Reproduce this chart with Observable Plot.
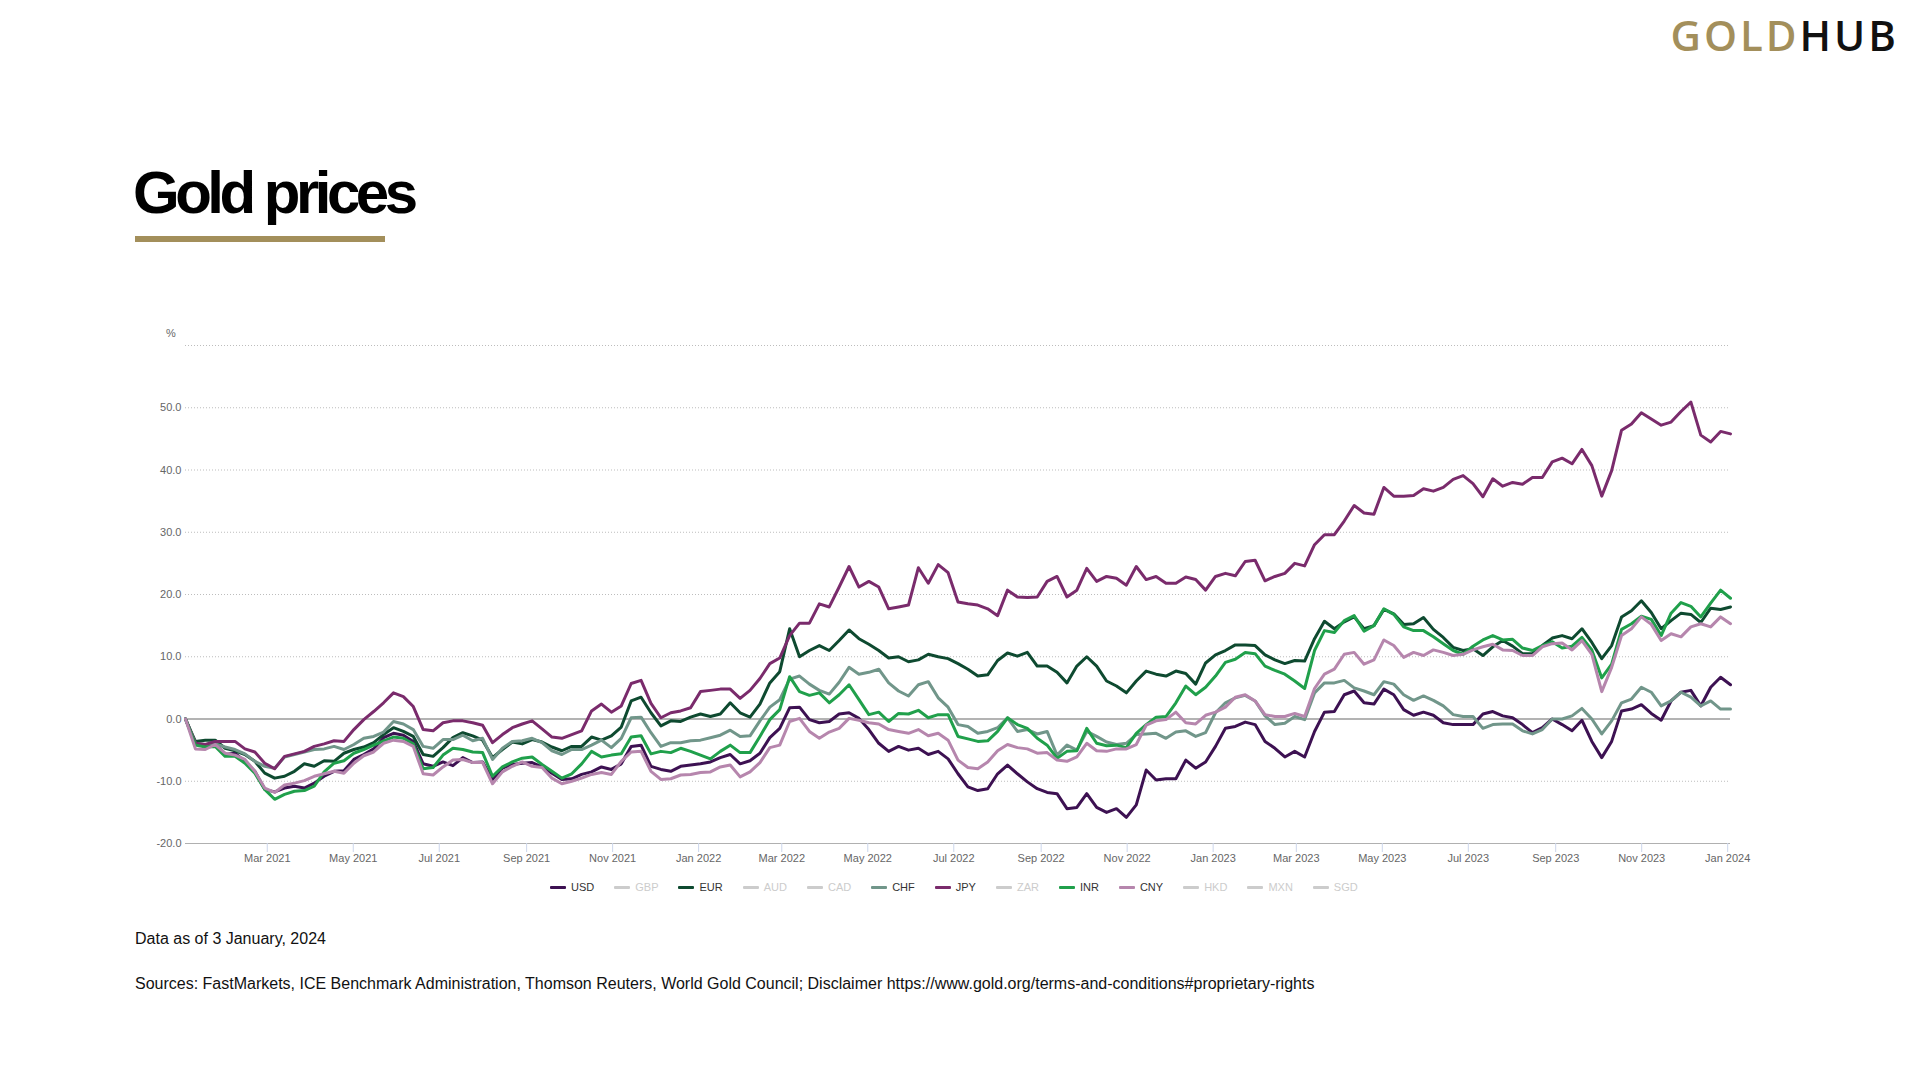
<!DOCTYPE html>
<html>
<head>
<meta charset="utf-8">
<script src="https://cdn.jsdelivr.net/npm/d3@7"></script>
<script src="https://cdn.jsdelivr.net/npm/@observablehq/plot@0.6"></script>
<style>
  html, body { margin: 0; padding: 0; background: #fff; }
  body { width: 1920px; height: 1080px; position: relative; overflow: hidden; font-family: "Liberation Sans", Arial, sans-serif; }
  #overlay { position: absolute; left: 0; top: 0; width: 1920px; height: 1080px; pointer-events: none; }
  #chart { position: absolute; left: 0; top: 300px; width: 1920px; }
  #legend { position: absolute; left: 550px; top: 880px; display: flex; gap: 20px; font-size: 11px; line-height: 14px; font-family: "Liberation Sans", Arial, sans-serif; }
  .item { display: flex; align-items: center; white-space: nowrap; }
  .sw { width: 16px; height: 3px; margin-right: 5px; border-radius: 1px; }
</style>
</head>
<body>
<div id="chart"></div>
<div id="legend"></div>
<svg id="overlay" width="1920" height="1080"></svg>
<script>
// ---------- data ----------
const startDate = "2021-01-02";
const endDate = "2024-01-03";
const xTickDates = ["2021-03-01","2021-05-01","2021-07-01","2021-09-01","2021-11-01","2022-01-01","2022-03-01","2022-05-01","2022-07-01","2022-09-01","2022-11-01","2023-01-01","2023-03-01","2023-05-01","2023-07-01","2023-09-01","2023-11-01","2024-01-01"];
const yTicks = [-20, -10, 0, 10, 20, 30, 40, 50];
const yGrid = [-10, 10, 20, 30, 40, 50, 60];

const legendNames = ["USD","GBP","EUR","AUD","CAD","CHF","JPY","ZAR","INR","CNY","HKD","MXN","SGD"];
const activeNames = ["USD","EUR","CHF","JPY","INR","CNY"];
const seriesColors = {USD:"#3d1152", EUR:"#0e4a30", CHF:"#71968a", JPY:"#7a2b6c", INR:"#20a04b", CNY:"#b686ad"};

// weekly readings (% change in gold price in each currency)
const USD = [0,-3.9,-4.4,-3.9,-5.7,-5.5,-6.8,-8.4,-11.3,-11.7,-11.1,-10.8,-11.1,-10.3,-9.2,-8.4,-8.3,-6.5,-5.7,-4.8,-3.0,-2.3,-2.6,-3.6,-7.2,-7.6,-6.9,
 -7.5,-6.2,-7.0,-6.9,-9.7,-7.9,-7.3,-7.1,-7.0,-7.7,-8.7,-9.7,-9.6,-8.9,-8.5,-7.7,-8.1,-7.2,-4.4,-4.2,-7.6,-8.1,-8.4,-7.6,-7.4,-7.2,
 -6.9,-6.2,-5.7,-7.2,-6.7,-5.5,-3.0,-1.5,1.8,1.9,-0.1,-0.6,-0.4,0.8,1.0,0.1,-1.7,-3.9,-5.2,-4.4,-5.0,-4.7,-5.7,-5.2,-6.4,
 -8.8,-10.9,-11.5,-11.2,-8.8,-7.4,-8.8,-10.1,-11.2,-11.8,-12.0,-14.4,-14.2,-12.0,-14.2,-15.0,-14.4,-15.8,-13.8,-8.2,-9.8,-9.6,-9.6,-6.6,-7.9,-6.9,
 -4.4,-1.5,-1.2,-0.5,-0.9,-3.6,-4.7,-6.1,-5.2,-6.1,-2.0,1.1,1.2,3.9,4.5,2.6,2.4,4.8,3.9,1.5,0.6,1.1,0.6,-0.6,-0.9,-0.9,
 -0.9,0.8,1.2,0.5,0.2,-0.9,-2.2,-1.4,0.0,-0.9,-1.9,-0.2,-3.6,-6.2,-3.6,1.3,1.6,2.3,0.9,-0.2,2.9,4.3,4.6,2.1,5.1,6.7,5.5];

const EUR = [0,-3.6,-3.4,-3.4,-4.7,-5.1,-5.7,-6.8,-8.7,-9.5,-9.2,-8.4,-7.2,-7.6,-6.7,-6.8,-5.5,-4.9,-4.5,-3.8,-2.5,-1.4,-2.0,-2.8,-5.7,-6.0,-4.6,
 -3.0,-2.2,-2.7,-3.4,-6.2,-4.9,-3.7,-4.0,-3.3,-3.7,-4.5,-5.1,-4.4,-4.4,-2.9,-3.4,-2.7,-1.3,2.9,3.5,1.0,-1.1,-0.3,-0.4,0.3,0.8,
 0.4,0.8,2.6,1.0,0.3,2.4,5.8,7.6,14.5,10.0,11.0,11.8,11.0,12.6,14.3,12.9,12.0,11.0,9.8,10.0,9.2,9.5,10.4,10.0,9.7,
 8.9,8.0,6.9,7.1,9.4,10.6,10.1,10.7,8.5,8.5,7.5,5.8,8.5,10.0,8.5,6.1,5.3,4.2,6.1,7.7,7.2,6.9,7.7,7.3,5.6,9.0,
 10.3,11.0,11.9,11.9,11.8,10.3,9.5,8.9,9.4,9.3,12.9,15.7,14.5,15.6,16.4,14.5,15.0,17.6,16.9,15.2,15.3,16.3,14.4,13.1,11.5,11.0,
 11.3,10.2,11.6,12.6,11.7,10.5,10.5,11.8,13.0,13.4,12.9,14.5,12.3,9.7,11.8,16.4,17.4,19.0,17.1,14.5,15.8,17.0,16.8,15.5,17.8,17.6,18.0];

const CHF = [0,-3.9,-4.1,-4.0,-4.5,-4.9,-5.6,-6.8,-7.6,-7.9,-6.1,-5.7,-5.3,-4.9,-4.8,-4.4,-4.9,-4.1,-3.1,-2.8,-2.1,-0.4,-0.8,-1.7,-4.4,-4.7,-3.3,
 -3.3,-2.6,-3.5,-3.1,-6.5,-4.7,-3.6,-3.5,-3.1,-3.8,-5.1,-5.7,-4.9,-4.9,-4.2,-3.4,-4.6,-3.1,0.2,0.3,-2.2,-4.4,-3.8,-3.8,-3.5,-3.4,
 -3.0,-2.6,-1.8,-2.8,-2.7,-0.3,1.9,3.1,6.4,6.9,5.6,4.6,4.0,5.9,8.3,7.2,7.5,8.0,5.8,4.5,3.7,5.5,6.0,3.4,1.9,
 -0.9,-1.2,-2.3,-2.0,-1.4,0.2,-2.0,-1.7,-2.4,-2.0,-5.8,-4.2,-5.0,-2.0,-2.8,-3.7,-4.1,-3.9,-2.5,-2.4,-2.3,-3.1,-2.1,-1.9,-2.8,-2.2,
 1.0,2.6,3.4,3.8,2.9,0.5,-0.9,-0.7,0.4,-0.1,4.2,5.8,5.8,6.2,5.0,4.5,3.9,6.0,5.6,3.9,3.0,3.7,3.0,2.1,0.7,0.4,
 0.4,-1.5,-0.9,-0.8,-0.8,-1.9,-2.4,-1.7,0.0,0.0,0.5,1.7,0.0,-2.4,-0.3,2.6,3.2,5.1,4.3,2.1,2.9,4.3,3.5,2.1,2.9,1.6,1.6];

const JPY = [0,-3.9,-4.1,-3.6,-3.6,-3.6,-4.8,-5.3,-7.1,-8.0,-6.0,-5.6,-5.2,-4.4,-4.0,-3.5,-3.6,-1.7,-0.1,1.2,2.6,4.2,3.6,2.0,-1.7,-1.9,-0.6,
 -0.3,-0.3,-0.6,-1.0,-3.8,-2.5,-1.4,-0.8,-0.3,-1.6,-2.9,-3.1,-2.5,-1.9,1.3,2.4,1.1,2.1,5.7,6.2,2.5,0.2,1.0,1.3,1.8,4.4,
 4.6,4.8,4.8,3.3,4.6,6.5,8.9,9.8,13.4,15.4,15.4,18.5,18.0,21.2,24.5,21.2,22.1,21.2,17.7,18.0,18.3,24.3,21.8,24.8,23.5,
 18.8,18.5,18.3,17.7,16.6,20.7,19.6,19.5,19.6,22.1,22.9,19.6,20.7,24.2,22.1,22.9,22.6,21.5,24.5,22.4,22.9,21.8,21.8,22.8,22.4,20.7,
 22.9,23.4,23.0,25.3,25.5,22.2,22.9,23.4,25.0,24.6,28.0,29.6,29.6,31.8,34.3,33.1,32.9,37.2,35.8,35.8,35.9,37.0,36.6,37.2,38.5,39.1,
 37.8,35.7,38.6,37.4,38.0,37.7,38.8,38.8,41.3,41.9,41.0,43.3,40.7,35.8,39.9,46.4,47.4,49.2,48.2,47.2,47.7,49.4,50.9,45.6,44.5,46.2,45.8];

const INR = [0,-4.2,-4.5,-4.4,-6.0,-6.0,-7.1,-8.7,-11.3,-12.9,-12.1,-11.6,-11.5,-10.8,-8.5,-7.1,-6.7,-5.5,-4.9,-4.2,-3.5,-2.9,-3.1,-4.0,-8.0,-7.8,-5.8,
 -4.7,-4.9,-5.3,-5.4,-9.2,-7.7,-6.9,-6.3,-6.1,-7.3,-8.4,-9.5,-8.8,-7.2,-5.2,-6.1,-5.8,-5.6,-2.9,-2.7,-5.6,-5.2,-5.4,-4.7,-5.2,-5.8,
 -6.4,-5.2,-4.2,-5.4,-5.4,-2.8,-0.1,1.5,6.8,4.4,3.8,4.2,2.6,3.9,5.5,3.1,0.7,1.1,-0.4,0.9,0.8,1.4,0.2,0.7,0.7,
 -2.8,-3.2,-3.6,-3.5,-2.0,0.2,-0.9,-1.5,-3.1,-4.2,-6.3,-5.2,-5.1,-1.5,-3.9,-4.3,-4.2,-4.6,-2.3,-0.9,0.3,0.4,2.6,5.3,3.9,5.1,
 6.9,9.1,9.6,10.7,10.5,8.5,7.8,7.2,6.1,4.9,11.0,14.2,13.9,15.8,16.6,14.1,15.0,17.7,16.8,14.8,14.2,14.2,13.2,12.1,11.0,10.4,
 11.7,12.7,13.4,12.7,12.8,11.4,11.0,11.8,12.4,11.4,11.7,13.1,11.1,6.6,8.8,14.4,15.3,16.5,16.0,13.4,17.0,18.7,18.1,16.4,18.6,20.7,19.4];

const CNY = [0,-4.8,-4.9,-4.1,-5.5,-5.8,-6.5,-8.4,-11.1,-11.8,-10.6,-10.3,-9.9,-9.2,-8.8,-8.4,-8.7,-7.1,-5.9,-5.3,-3.9,-3.4,-3.6,-4.4,-8.8,-9.0,-7.7,
 -6.6,-6.5,-7.0,-7.0,-10.4,-8.5,-7.6,-6.9,-7.6,-7.8,-9.5,-10.4,-10.0,-9.5,-8.9,-8.6,-8.9,-6.8,-5.3,-5.2,-8.4,-9.7,-9.6,-9.0,-8.9,-8.6,
 -8.5,-7.7,-7.4,-9.3,-8.5,-7.0,-4.6,-4.2,-0.4,0.1,-2.0,-3.1,-2.1,-1.5,0.1,-0.2,-0.6,-0.8,-1.7,-2.0,-2.3,-1.7,-2.7,-2.3,-3.4,
 -6.6,-7.8,-8.0,-6.9,-5.1,-4.1,-4.6,-4.8,-5.5,-5.4,-6.6,-6.8,-6.1,-3.9,-5.1,-5.2,-4.8,-4.8,-4.1,-1.0,-0.3,-0.1,1.1,-0.6,-0.8,0.6,
 1.1,1.9,3.5,3.9,2.9,0.7,0.4,0.4,0.9,0.4,4.9,7.2,8.0,10.4,10.7,8.8,9.5,12.7,11.8,9.9,10.7,10.2,11.1,10.7,10.2,10.4,
 11.1,11.6,12.0,11.1,11.0,10.2,10.2,11.6,12.1,12.2,11.1,12.6,10.4,4.4,8.3,13.4,14.5,16.4,15.2,12.6,13.7,13.2,14.8,15.3,14.8,16.4,15.3];

const seriesValues = {USD, EUR, CHF, JPY, INR, CNY};

// ---------- build table ----------
const t0 = new Date(startDate + "T00:00:00Z");
const t1 = new Date(endDate + "T00:00:00Z");
const nObs = USD.length;
const obsDates = d3.range(nObs).map(i => new Date(+t0 + (t1 - t0) * i / (nObs - 1)));
const rows = [];
for (const name of activeNames) {
  seriesValues[name].forEach((v, i) => rows.push({date: obsDates[i], value: v, currency: name}));
}

// ---------- chart ----------
const chart = Plot.plot({
  width: 1920,
  height: 580,
  marginLeft: 185,
  marginRight: 190,
  marginTop: 45,
  marginBottom: 37,
  style: {fontFamily: "Liberation Sans, Arial, sans-serif", fontSize: "11px", background: "transparent", color: "#666", overflow: "visible"},
  x: {type: "utc", domain: [t0, t1]},
  y: {domain: [-20, 60]},
  marks: [
    Plot.ruleY(yGrid, {stroke: "#bdbdbd", strokeWidth: 1, strokeDasharray: "1,2"}),
    Plot.ruleY([0], {stroke: "#9a9a9a", strokeWidth: 1.3}),
    Plot.ruleY([-20], {stroke: "#b0b0b0", strokeWidth: 1}),
    ...activeNames.map(name => Plot.line(rows.filter(r => r.currency === name), {
      x: "date", y: "value", stroke: seriesColors[name], strokeWidth: 3, strokeLinejoin: "round", strokeLinecap: "round"
    })),
    Plot.axisX({ticks: xTickDates.map(s => new Date(s + "T00:00:00Z")), tickFormat: d3.utcFormat("%b %Y"), tickSize: 9, tickPadding: 2, stroke: "#ccd6eb", fill: "#666", label: null}),
    Plot.axisY({ticks: yTicks, tickFormat: d => d.toFixed(1), tickSize: 0, tickPadding: 4, fill: "#666", label: null})
  ]
});
document.getElementById("chart").appendChild(chart);

// ---------- legend ----------
const legend = d3.select("#legend");
for (const name of legendNames) {
  const on = activeNames.includes(name);
  const it = legend.append("div").attr("class", "item");
  it.append("div").attr("class", "sw").style("background", on ? seriesColors[name] : "#cccccc");
  it.append("span").style("color", on ? "#333333" : "#cccccc").text(name);
}

// ---------- page texts ----------
const ov = d3.select("#overlay");
const logo = ov.append("text").attr("x", 1899).attr("y", 51).attr("text-anchor", "end")
  .style("font-family", "'Open Sans', sans-serif").style("font-weight", 600).style("font-size", "42px").style("letter-spacing", "3px");
logo.append("tspan").attr("fill", "#a38f5b").text("GOLD");
logo.append("tspan").attr("fill", "#111111").text("HUB");

ov.append("text").attr("x", 133).attr("y", 213).attr("fill", "#000")
  .style("font-family", "'Liberation Sans', Arial, sans-serif").style("font-weight", 700).style("font-size", "60px").style("letter-spacing", "-4.5px")
  .text("Gold prices");
ov.append("rect").attr("x", 135).attr("y", 236).attr("width", 250).attr("height", 6).attr("fill", "#a38f5b");

ov.append("text").attr("x", 171).attr("y", 337).attr("text-anchor", "middle").attr("fill", "#666")
  .style("font-family", "'Liberation Sans', Arial, sans-serif").style("font-size", "11px").text("%");

ov.append("text").attr("x", 135).attr("y", 944).attr("fill", "#111")
  .style("font-family", "'Liberation Sans', Arial, sans-serif").style("font-size", "16px")
  .text("Data as of 3 January, 2024");
ov.append("text").attr("x", 135).attr("y", 989).attr("fill", "#111")
  .style("font-family", "'Liberation Sans', Arial, sans-serif").style("font-size", "16px")
  .text("Sources: FastMarkets, ICE Benchmark Administration, Thomson Reuters, World Gold Council; Disclaimer https://www.gold.org/terms-and-conditions#proprietary-rights");
</script>
</body>
</html>
